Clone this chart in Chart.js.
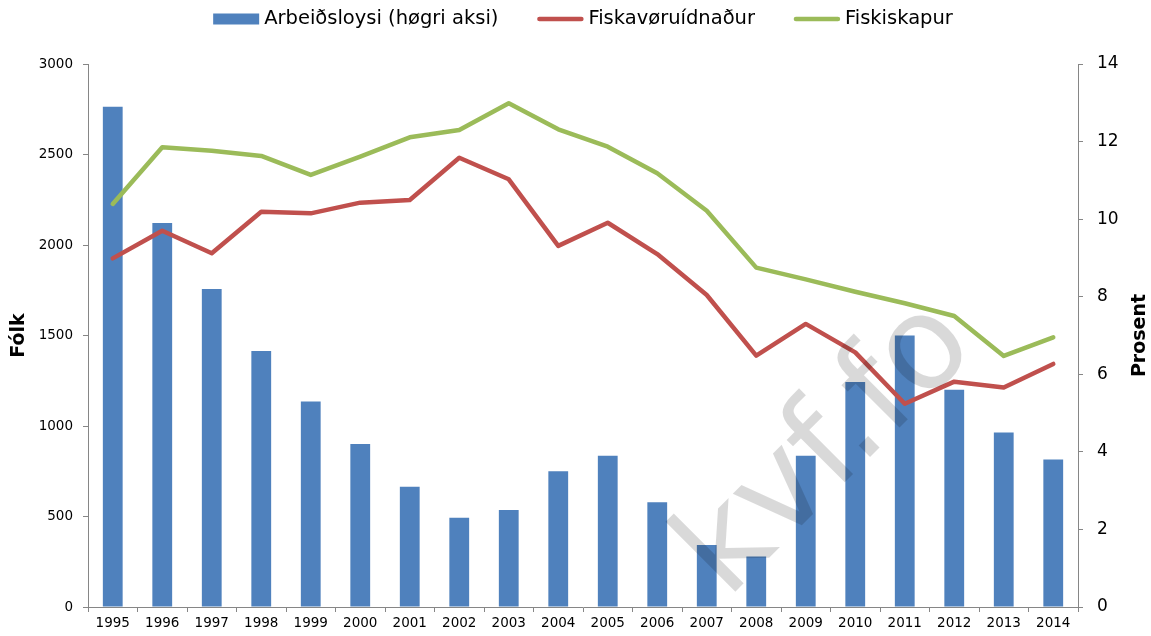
<!DOCTYPE html>
<html>
<head>
<meta charset="utf-8">
<script src="https://cdn.jsdelivr.net/npm/chart.js@4/dist/chart.umd.min.js"></script>
<style>
  html, body { margin: 0; padding: 0; background: #ffffff; }
  #wrap { width: 1151px; height: 636px; }
</style>
</head>
<body>
<div id="wrap"><canvas id="c" width="1151" height="636"></canvas></div>
<script>
// ---- data ----
const years = ['1995','1996','1997','1998','1999','2000','2001','2002','2003','2004',
               '2005','2006','2007','2008','2009','2010','2011','2012','2013','2014'];
// Arbeiðsloysi, percent (right axis)
const arbeidsloysi = [12.9, 9.9, 8.2, 6.6, 5.3, 4.2, 3.1, 2.3, 2.5, 3.5,
                      3.9, 2.7, 1.6, 1.3, 3.9, 5.8, 7.0, 5.6, 4.5, 3.8];
// Fiskavøruídnaður, people (left axis)
const fiskavoruidnadur = [1926, 2079, 1954, 2184, 2175, 2234, 2249, 2482, 2363, 1995,
                          2123, 1950, 1724, 1389, 1564, 1407, 1123, 1245, 1213, 1343];
// Fiskiskapur, people (left axis)
const fiskiskapur = [2227, 2540, 2521, 2492, 2387, 2488, 2595, 2635, 2783, 2639,
                     2543, 2396, 2189, 1875, 1810, 1742, 1678, 1608, 1387, 1490];
const leftTicks = [0, 500, 1000, 1500, 2000, 2500, 3000];
const rightTicks = [0, 2, 4, 6, 8, 10, 12, 14];
const seriesNames = ['Arbeiðsloysi (høgri aksi)', 'Fiskavøruídnaður', 'Fiskiskapur'];
const axisTitleLeft = 'Fólk';
const axisTitleRight = 'Prosent';
const watermarkText = 'kvf.fo';

// ---- styles ----
const BLUE = '#4F81BD', RED = '#C0504D', GREEN = '#9BBB59', AXIS = '#868686';
const FONT = "'DejaVu Sans', Verdana, sans-serif";

const decor = {
  id: 'decor',
  afterDraw(chart) {
    const ctx = chart.ctx;
    const ca = chart.chartArea;

    // watermark
    ctx.save();
    ctx.translate(727, 600);
    ctx.rotate(-Math.PI / 4);
    ctx.font = '130px ' + FONT;
    ctx.fillStyle = 'rgba(0,0,0,0.15)';
    ctx.textBaseline = 'alphabetic';
    ctx.textAlign = 'left';
    ctx.fillText(watermarkText, 0, 0);
    ctx.restore();

    // axis titles
    const cy = (ca.top + ca.bottom) / 2;
    [[19, axisTitleLeft], [1140, axisTitleRight]].forEach(([tx, t]) => {
      ctx.save();
      ctx.font = 'bold 19px ' + FONT;
      ctx.fillStyle = '#000';
      ctx.textAlign = 'center';
      ctx.textBaseline = 'middle';
      ctx.translate(tx, cy);
      ctx.rotate(-Math.PI / 2);
      ctx.fillText(t, 0, 0);
      ctx.restore();
    });

    // legend
    ctx.save();
    ctx.font = '19.5px ' + FONT;
    const sampleW = 46, gapText = 5, gapItem = 39, ly = 19;
    const items = chart.data.datasets.map(ds => ({
      label: ds.label, type: ds.type || 'bar',
      color: ds.type === 'line' ? ds.borderColor : ds.backgroundColor,
      w: ctx.measureText(ds.label).width
    }));
    let total = 0;
    items.forEach((it, i) => { total += sampleW + gapText + it.w + (i ? gapItem : 0); });
    let x = (ca.left + ca.right) / 2 - total / 2;
    items.forEach((it) => {
      if (it.type === 'line') {
        ctx.strokeStyle = it.color;
        ctx.lineWidth = 4.5;
        ctx.lineCap = 'round';
        ctx.beginPath();
        ctx.moveTo(x + 2, ly);
        ctx.lineTo(x + sampleW - 2, ly);
        ctx.stroke();
      } else {
        ctx.fillStyle = it.color;
        ctx.fillRect(x, ly - 5.5, sampleW, 11);
      }
      ctx.fillStyle = '#000';
      ctx.textAlign = 'left';
      ctx.textBaseline = 'middle';
      ctx.fillText(it.label, x + sampleW + gapText, ly);
      x += sampleW + gapText + it.w + gapItem;
    });
    ctx.restore();
  }
};

new Chart(document.getElementById('c'), {
  data: {
    labels: years,
    datasets: [
      {
        type: 'bar', label: seriesNames[0], data: arbeidsloysi, yAxisID: 'y1',
        backgroundColor: BLUE, borderWidth: 0, order: 2,
        barPercentage: 0.4, categoryPercentage: 1.0
      },
      {
        type: 'line', label: seriesNames[1], data: fiskavoruidnadur, yAxisID: 'y',
        borderColor: RED, backgroundColor: RED, borderWidth: 4.5, pointRadius: 0,
        tension: 0, borderJoinStyle: 'round', borderCapStyle: 'round', order: 1
      },
      {
        type: 'line', label: seriesNames[2], data: fiskiskapur, yAxisID: 'y',
        borderColor: GREEN, backgroundColor: GREEN, borderWidth: 4.5, pointRadius: 0,
        tension: 0, borderJoinStyle: 'round', borderCapStyle: 'round', order: 0
      }
    ]
  },
  options: {
    responsive: false,
    animation: false,
    devicePixelRatio: 1,
    layout: { padding: { top: 64, left: 0, right: 0, bottom: 0 } },
    plugins: { legend: { display: false }, tooltip: { enabled: false } },
    scales: {
      x: {
        type: 'category', offset: true,
        grid: { offset: true, drawOnChartArea: false, drawTicks: true, tickLength: 5, color: AXIS },
        border: { display: true, color: AXIS, width: 1 },
        ticks: { color: '#000', font: { family: FONT, size: 13.5 }, padding: 3, maxRotation: 0, autoSkip: false },
        afterFit(s) { s.height = 29; }
      },
      y: {
        position: 'left', min: 0, max: 3000,
        afterBuildTicks(s) { s.ticks = leftTicks.map(v => ({ value: v })); },
        grid: { drawOnChartArea: false, drawTicks: true, tickLength: 5, color: AXIS },
        border: { display: true, color: AXIS, width: 1 },
        ticks: { color: '#000', font: { family: FONT, size: 13.5 }, padding: 10,
                 callback: (v) => String(v) },
        afterFit(s) { s.width = 88; }
      },
      y1: {
        position: 'right', min: 0, max: 14,
        afterBuildTicks(s) { s.ticks = rightTicks.map(v => ({ value: v })); },
        grid: { drawOnChartArea: false, drawTicks: true, tickLength: 5, color: AXIS },
        border: { display: true, color: AXIS, width: 1 },
        ticks: { color: '#000', font: { family: FONT, size: 17 }, padding: 14,
                 callback: (v) => String(v) },
        afterFit(s) { s.width = 73; }
      }
    }
  },
  plugins: [decor]
});
</script>
</body>
</html>
